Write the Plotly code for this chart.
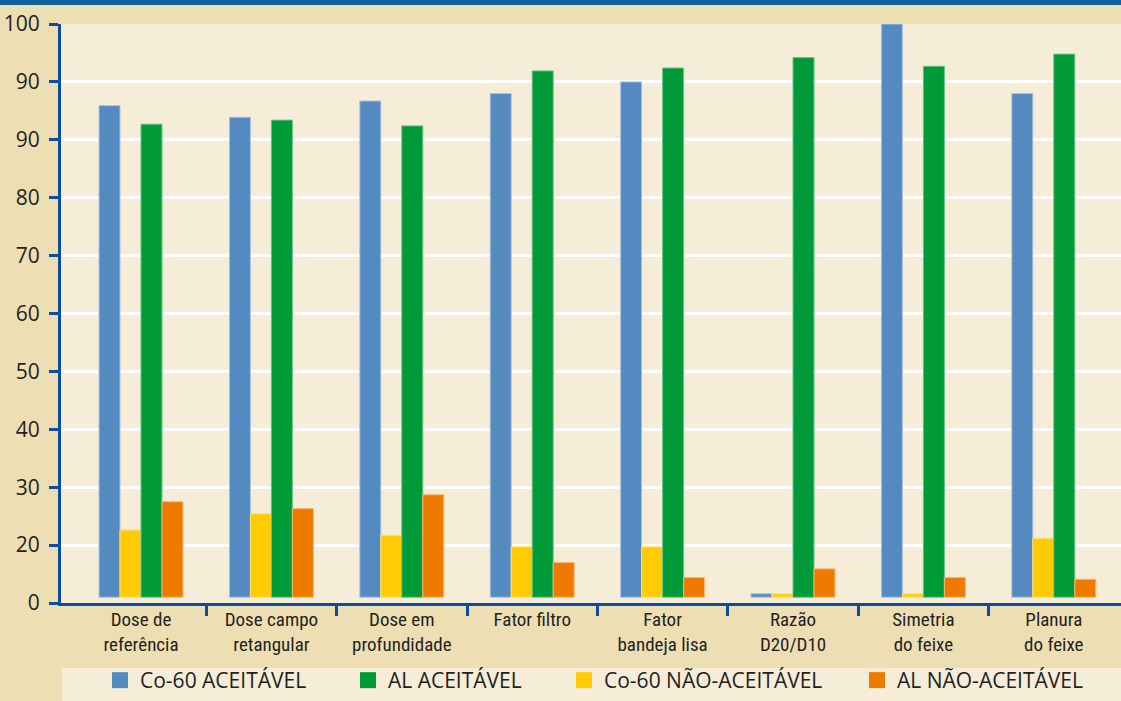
import plotly.graph_objects as go

categories = ["Dose de<br>referência", "Dose campo<br>retangular", "Dose em<br>profundidade",
              "Fator filtro", "Fator<br>bandeja lisa", "Razão<br>D20/D10",
              "Simetria<br>do feixe", "Planura<br>do feixe"]
co60_aceitavel = [85.9, 83.9, 86.7, 88.0, 90.0, 1.6, 100.0, 88.0]
co60_nao_aceitavel = [12.6, 15.4, 11.7, 9.7, 9.7, 1.6, 1.6, 11.2]
al_aceitavel = [82.7, 83.4, 82.4, 91.9, 92.4, 94.2, 92.7, 94.8]
al_nao_aceitavel = [17.5, 16.3, 18.7, 7.0, 4.4, 5.9, 4.4, 4.1]
y_tickvals = [0, 10, 20, 30, 40, 50, 60, 70, 80, 90, 100]
y_ticktext = ["0", "20", "30", "40", "50", "60", "70", "80", "90", "90", "100"]
legend_names = ["Co-60 ACEITÁVEL", "AL ACEITÁVEL", "Co-60 NÃO-ACEITÁVEL", "AL NÃO-ACEITÁVEL"]
bar_base = 1.0

W, H = 1121, 701
ML, MR, MT, MB = 61, 0, 24, 98
PW, PH = W - ML - MR, H - MT - MB

BLUE = "#558AC1"
GREEN = "#009A38"
YELLOW = "#FFCB05"
ORANGE = "#EE7A00"
AXIS = "#0B4DA1"
TEXT = "#231F20"

x = list(range(len(categories)))

fig = go.Figure()
series = [
    ("Co-60 ACEITÁVEL", co60_aceitavel, BLUE, "#A8C3E2"),
    ("Co-60 NÃO-ACEITÁVEL", co60_nao_aceitavel, YELLOW, "#FFE07A"),
    ("AL ACEITÁVEL", al_aceitavel, GREEN, "#66C285"),
    ("AL NÃO-ACEITÁVEL", al_nao_aceitavel, ORANGE, "#F6B87A"),
]
for name, vals, col, edge in series:
    fig.add_trace(go.Bar(
        x=x, y=[v - bar_base for v in vals], base=bar_base, name=name,
        marker=dict(color=col, line=dict(color=edge, width=1)),
        showlegend=False, hoverinfo="skip"))

# legend entries (legend order differs from bar order), one legend box each
legend_cols = [BLUE, GREEN, YELLOW, ORANGE]
legend_left_px = [110, 358, 574, 867]
legend_ids = ["legend", "legend2", "legend3", "legend4"]
for name, col, lid in zip(legend_names, legend_cols, legend_ids):
    fig.add_trace(go.Scatter(x=[None], y=[None], mode="markers", name=name, legend=lid,
                             marker=dict(symbol="square", size=19, color=col)))

spacing = 130.4
x0 = -(141 - ML) / spacing
x1 = x0 + PW / spacing

top_paper = 1 + MT / PH
legend_common = dict(orientation="h", xanchor="left", y=-MB / PH, yanchor="bottom",
                     bgcolor="rgba(0,0,0,0)", font=dict(family="Open Sans", size=21, color=TEXT),
                     itemsizing="trace")
legend_layouts = {}
for lid, left in zip(legend_ids, legend_left_px):
    legend_layouts[lid] = dict(legend_common, x=(left - 10 - ML) / PW)

fig.update_layout(
    width=W, height=H,
    margin=dict(l=ML, r=MR, t=MT, b=MB, pad=0),
    paper_bgcolor="#EDDFB3",
    plot_bgcolor="#F5EDD8",
    barmode="group", bargap=0.356, bargroupgap=0,
    font=dict(family="Open Sans", color=TEXT),
    xaxis=dict(
        range=[x0, x1], tickvals=x, ticktext=categories,
        ticks="", showgrid=False, zeroline=False, automargin=False,
        showline=True, linecolor=AXIS, linewidth=3,
        tickfont=dict(family="Roboto Condensed, Liberation Sans Narrow, Roboto", size=19, color=TEXT),
        ticklabelstandoff=-3,
        minor=dict(tickvals=[i + 0.5 for i in range(len(categories) - 1)],
                   ticks="outside", ticklen=10, tickwidth=3, tickcolor=AXIS, showgrid=False),
    ),
    yaxis=dict(
        range=[0, 100], tickvals=y_tickvals, ticktext=y_ticktext,
        ticks="outside", ticklen=9, tickwidth=3, tickcolor=AXIS, automargin=False,
        showline=True, linecolor=AXIS, linewidth=3,
        showgrid=True, gridcolor="white", gridwidth=3, zeroline=False,
        tickfont=dict(family="Open Sans", size=21, color=TEXT),
        ticklabelstandoff=5,
    ),
    shapes=[
        dict(type="rect", xref="paper", yref="paper", x0=-ML / PW, x1=1 + MR / PW,
             y0=top_paper - 5 / PH, y1=top_paper, fillcolor="#0F6096", line=dict(width=0),
             layer="above"),
        dict(type="rect", xref="paper", yref="paper", x0=1 / PW, x1=1,
             y0=-(701 - 603) / PH, y1=-(668 - 603) / PH,
             fillcolor="#F5EDD8", line=dict(width=0), layer="below"),
    ],
    **legend_layouts,
)

fig.write_html("out.html")
